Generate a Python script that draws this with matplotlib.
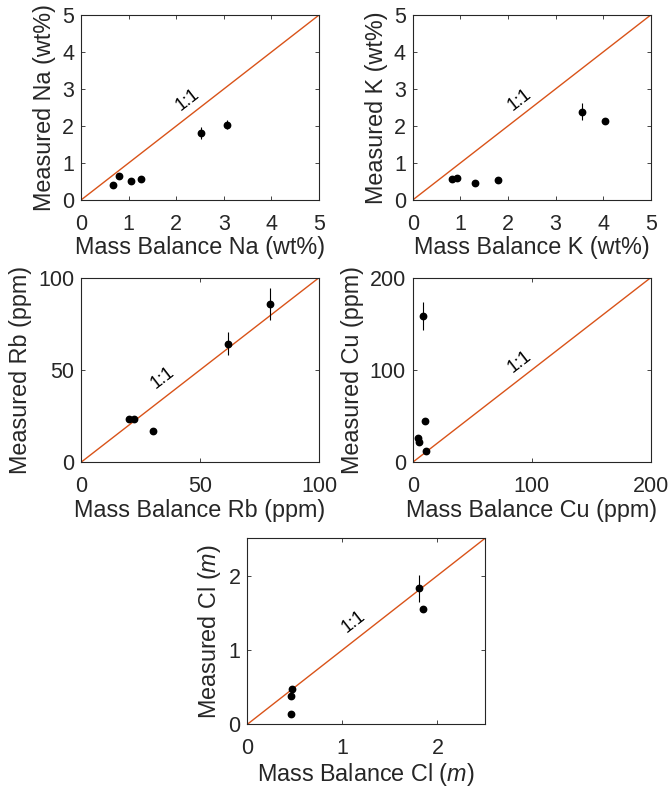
import matplotlib
matplotlib.use('Agg')
import matplotlib.pyplot as plt

plt.rcParams['font.family'] = ['Liberation Sans', 'DejaVu Sans']
plt.rcParams['mathtext.fontset'] = 'custom'
plt.rcParams['mathtext.rm'] = 'Liberation Sans'
plt.rcParams['mathtext.it'] = 'Liberation Sans:italic'

# Data
na_x = [0.68, 0.80, 1.05, 1.27, 2.52, 3.07]
na_y = [0.40, 0.66, 0.52, 0.58, 1.80, 2.03]
na_err = [0.0, 0.0, 0.0, 0.0, 0.16, 0.12]

k_x = [0.83, 0.92, 1.31, 1.80, 3.56, 4.04]
k_y = [0.58, 0.60, 0.46, 0.54, 2.38, 2.13]
k_err = [0.0, 0.0, 0.0, 0.0, 0.23, 0.0]

rb_x = [20.0, 22.2, 30.1, 61.7, 79.4]
rb_y = [23.6, 23.6, 17.1, 64.3, 85.7]
rb_err = [0.0, 0.0, 0.0, 6.1, 8.5]

cu_x = [8.4, 10.4, 4.8, 5.3, 10.9]
cu_y = [158.5, 44.4, 26.4, 22.4, 12.3]
cu_err = [15.5, 0.0, 0.0, 0.0, 0.0]

cl_x = [0.47, 0.46, 0.46, 1.81, 1.85]
cl_y = [0.48, 0.385, 0.14, 1.83, 1.55]
cl_err = [0.0, 0.0, 0.0, 0.18, 0.0]

panels = [
    # x, y, yerr, limit, ticks, xlabel, ylabel, 1:1 label position, axes rect
    (na_x, na_y, na_err, 5, [0, 1, 2, 3, 4, 5], 'Mass Balance Na (wt%)', 'Measured Na (wt%)',
     (2.25, 2.70), [0.1211, 0.7465, 0.3558, 0.2345]),
    (k_x, k_y, k_err, 5, [0, 1, 2, 3, 4, 5], 'Mass Balance K (wt%)', 'Measured K (wt%)',
     (2.24, 2.71), [0.6169, 0.7465, 0.3558, 0.2345]),
    (rb_x, rb_y, rb_err, 100, [0, 50, 100], 'Mass Balance Rb (ppm)', 'Measured Rb (ppm)',
     (34.5, 45.5), [0.1211, 0.4141, 0.3558, 0.2340]),
    (cu_x, cu_y, cu_err, 200, [0, 100, 200], 'Mass Balance Cu (ppm)', 'Measured Cu (ppm)',
     (89.6, 109), [0.6169, 0.4141, 0.3558, 0.2340]),
    (cl_x, cl_y, cl_err, 2.5, [0, 1, 2], 'Mass Balance Cl ($\\mathit{m}$)', 'Measured Cl ($\\mathit{m}$)',
     (1.115, 1.38), [0.3697, 0.0820, 0.3553, 0.2357]),
]

line_color = '#D95319'
text_color = '#262626'

fig = plt.figure(figsize=(6.69, 7.89), dpi=100)

for x, y, yerr, lim, ticks, xlab, ylab, lab_pos, rect in panels:
    ax = fig.add_axes(rect)
    ax.plot([0, lim], [0, lim], color=line_color, lw=1.0, zorder=1)
    ax.errorbar(x, y, yerr=yerr, fmt='o', color='black', ms=4.6, elinewidth=0.8,
                capsize=0, zorder=3)
    ax.text(lab_pos[0], lab_pos[1], '1:1', rotation=45, transform_rotates_text=True,
            rotation_mode='anchor', ha='center', va='center', fontsize=13, color='black')
    ax.set_xlim(0, lim)
    ax.set_ylim(0, lim)
    ax.set_xticks(ticks)
    ax.set_yticks(ticks)
    ax.tick_params(direction='in', top=True, right=True, length=3, width=0.6,
                   labelsize=15.5, colors=text_color)
    ax.tick_params(axis='x', pad=10)
    ax.tick_params(axis='y', pad=5)
    for s in ax.spines.values():
        s.set_color(text_color)
        s.set_linewidth(0.8)
    ax.set_xlabel(xlab, fontsize=16.8, color=text_color, labelpad=1)
    ax.set_ylabel(ylab, fontsize=16.8, color=text_color, labelpad=4)

plt.savefig('out.png', dpi=100)
